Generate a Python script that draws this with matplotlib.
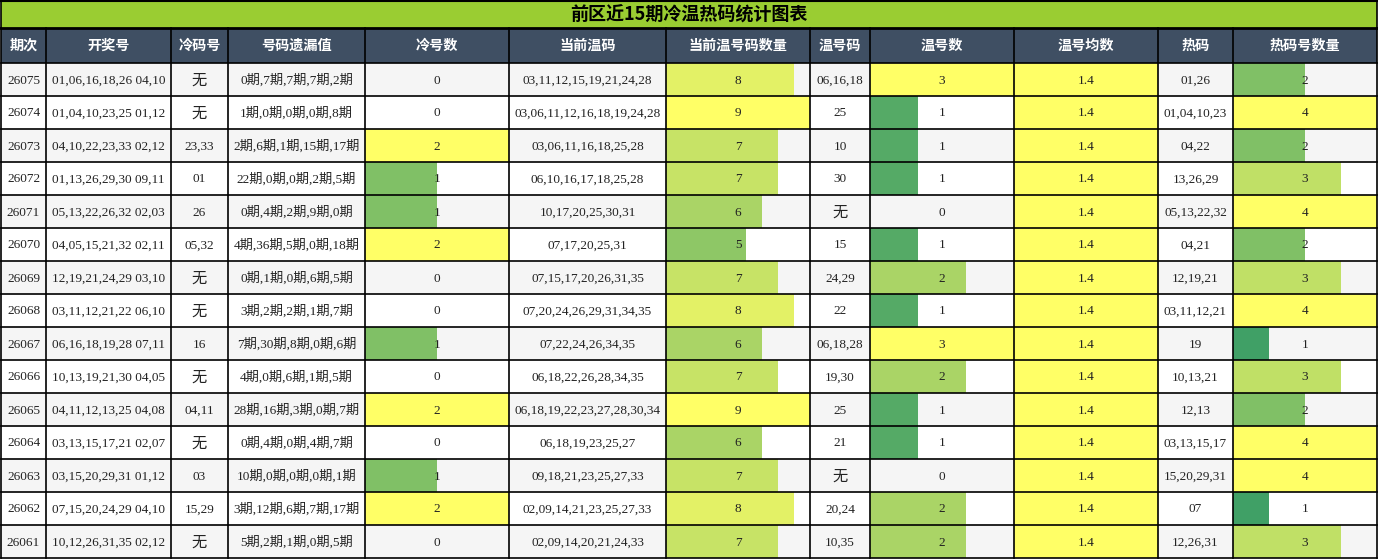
import matplotlib
matplotlib.use('Agg')
import matplotlib.pyplot as plt
from matplotlib.patches import Rectangle

title = '前区近15期冷温热码统计图表'
headers = ['期次', '开奖号', '冷码号', '号码遗漏值', '冷号数', '当前温码', '当前温号码数量',
           '温号码', '温号数', '温号均数', '热码', '热码号数量']

periods = ['26075', '26074', '26073', '26072', '26071', '26070', '26069', '26068',
           '26067', '26066', '26065', '26064', '26063', '26062', '26061']
draws = ['01,06,16,18,26 04,10', '01,04,10,23,25 01,12', '04,10,22,23,33 02,12',
         '01,13,26,29,30 09,11', '05,13,22,26,32 02,03', '04,05,15,21,32 02,11',
         '12,19,21,24,29 03,10', '03,11,12,21,22 06,10', '06,16,18,19,28 07,11',
         '10,13,19,21,30 04,05', '04,11,12,13,25 04,08', '03,13,15,17,21 02,07',
         '03,15,20,29,31 01,12', '07,15,20,24,29 04,10', '10,12,26,31,35 02,12']
cold_codes = ['无', '无', '23,33', '01', '26', '05,32', '无', '无', '16', '无',
              '04,11', '无', '03', '15,29', '无']
omissions = ['0期,7期,7期,7期,2期', '1期,0期,0期,0期,8期', '2期,6期,1期,15期,17期',
             '22期,0期,0期,2期,5期', '0期,4期,2期,9期,0期', '4期,36期,5期,0期,18期',
             '0期,1期,0期,6期,5期', '3期,2期,2期,1期,7期', '7期,30期,8期,0期,6期',
             '4期,0期,6期,1期,5期', '28期,16期,3期,0期,7期', '0期,4期,0期,4期,7期',
             '10期,0期,0期,0期,1期', '3期,12期,6期,7期,17期', '5期,2期,1期,0期,5期']
cold_count = [0, 0, 2, 1, 1, 2, 0, 0, 1, 0, 2, 0, 1, 2, 0]
cur_warm = ['03,11,12,15,19,21,24,28', '03,06,11,12,16,18,19,24,28', '03,06,11,16,18,25,28',
            '06,10,16,17,18,25,28', '10,17,20,25,30,31', '07,17,20,25,31',
            '07,15,17,20,26,31,35', '07,20,24,26,29,31,34,35', '07,22,24,26,34,35',
            '06,18,22,26,28,34,35', '06,18,19,22,23,27,28,30,34', '06,18,19,23,25,27',
            '09,18,21,23,25,27,33', '02,09,14,21,23,25,27,33', '02,09,14,20,21,24,33']
cur_warm_count = [8, 9, 7, 7, 6, 5, 7, 8, 6, 7, 9, 6, 7, 8, 7]
warm_codes = ['06,16,18', '25', '10', '30', '无', '15', '24,29', '22', '06,18,28',
              '19,30', '25', '21', '无', '20,24', '10,35']
warm_count = [3, 1, 1, 1, 0, 1, 2, 1, 3, 2, 1, 1, 0, 2, 2]
warm_avg = [1.4] * 15
hot_codes = ['01,26', '01,04,10,23', '04,22', '13,26,29', '05,13,22,32', '04,21',
             '12,19,21', '03,11,12,21', '19', '10,13,21', '12,13', '03,13,15,17',
             '15,20,29,31', '07', '12,26,31']
hot_count = [2, 4, 2, 3, 4, 2, 3, 4, 1, 3, 2, 4, 4, 1, 3]

# column edges in pixels
col_edges = [1, 46, 171, 228, 365, 509, 666, 810, 870, 1014, 1158, 1233, 1377]
title_h = 28
head_h = 35
row_h = 33

text_cols = [periods, draws, cold_codes, omissions, None, cur_warm, None,
             warm_codes, None, None, hot_codes, None]
bar_cols = {4: cold_count, 6: cur_warm_count, 8: warm_count, 9: warm_avg, 11: hot_count}

body_font = ['Liberation Serif', 'Noto Sans CJK SC']
cjk_font = ['Noto Sans CJK SC', 'DejaVu Sans']
cmap = plt.get_cmap('summer')

fig = plt.figure(figsize=(13.78, 5.59), dpi=100)
ax = fig.add_axes([0, 0, 1, 1])
ax.set_xlim(0, 1378)
ax.set_ylim(559, 0)
ax.axis('off')

right = col_edges[-1]
left = col_edges[0]

# title
ax.add_patch(Rectangle((left, 0), right - left, title_h, color='#9acd32', lw=0))
ax.text((left + right) / 2, title_h / 2 + 1, title, ha='center', va='center',
        fontsize=13, fontweight='bold', family=cjk_font, color='black')

# header
ax.add_patch(Rectangle((left, title_h), right - left, head_h, color='#3f4f63', lw=0))
for i, h in enumerate(headers):
    cx = (col_edges[i] + col_edges[i + 1]) / 2
    ax.text(cx, title_h + head_h / 2, h, ha='center', va='center', fontsize=10.2,
            fontweight='bold', family=cjk_font, color='white')

top = title_h + head_h
for r in range(len(periods)):
    y0 = top + r * row_h
    bg = '#f5f5f5' if r % 2 == 0 else 'white'
    ax.add_patch(Rectangle((left, y0), right - left, row_h, color=bg, lw=0))
    for c in range(len(headers)):
        x0, x1 = col_edges[c], col_edges[c + 1]
        cx = (x0 + x1) / 2
        if c in bar_cols:
            vals = bar_cols[c]
            v = vals[r]
            frac = v / max(vals)
            if frac > 0:
                ax.add_patch(Rectangle((x0, y0), (x1 - x0) * frac, row_h,
                                       color=cmap(frac), lw=0))
            label = str(v)
        else:
            label = text_cols[c][r]
        fs = 11 if label == '无' else 9.5
        ax.text(cx, y0 + row_h / 2 + 1, label, ha='center', va='center',
                fontsize=fs, family=body_font, color='#222222')

bottom = top + len(periods) * row_h

# grid lines
for x in col_edges:
    ax.plot([x, x], [title_h, bottom], color='black', lw=1.2)
ax.plot([left, left], [0, title_h], color='black', lw=1.2)
ax.plot([right, right], [0, title_h], color='black', lw=1.2)
ax.plot([left, right], [0.8, 0.8], color='black', lw=1.5)
ax.plot([left, right], [title_h, title_h], color='black', lw=2)
ax.plot([left, right], [top, top], color='black', lw=1.2)
for r in range(1, len(periods) + 1):
    y = top + r * row_h
    ax.plot([left, right], [y, y], color='black', lw=1.2)

fig.savefig('out.png', dpi=100)
